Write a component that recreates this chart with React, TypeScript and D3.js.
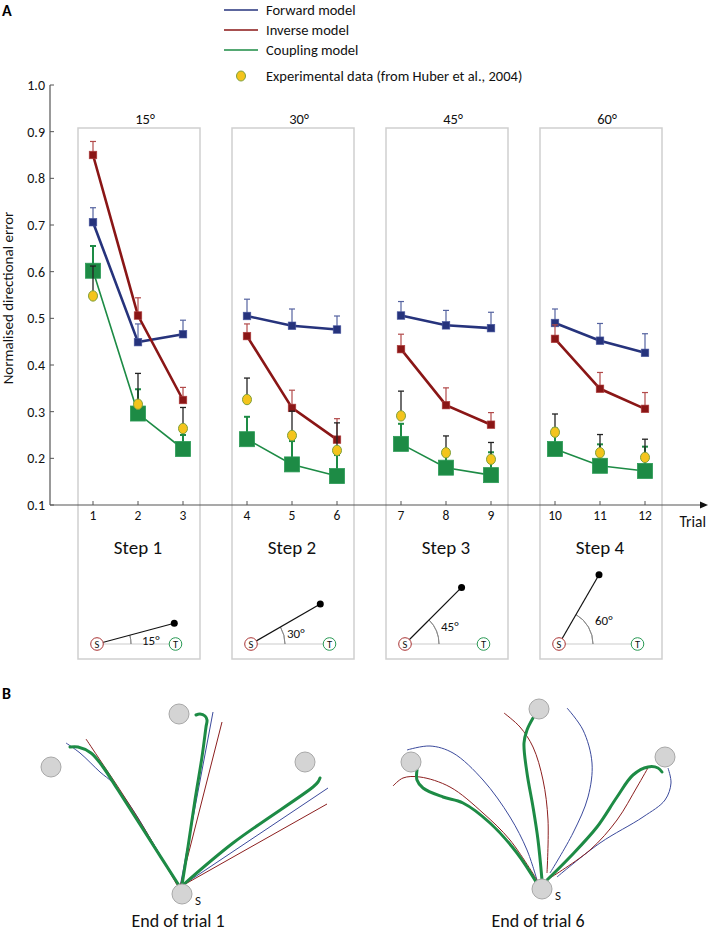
import React from "react";
import * as d3 from "d3";

// ---------- Panel A data ----------
const trials = [1, 2, 3, 4, 5, 6, 7, 8, 9, 10, 11, 12];
const steps = ["Step 1", "Step 2", "Step 3", "Step 4"];
const stepAngles = [15, 30, 45, 60];
const yTicks = [0.1, 0.2, 0.3, 0.4, 0.5, 0.6, 0.7, 0.8, 0.9, 1.0];

const forwardMean = [0.706, 0.449, 0.466, 0.505, 0.484, 0.476, 0.506, 0.485, 0.479, 0.49, 0.452, 0.426];
const forwardErr = [0.031, 0.039, 0.03, 0.036, 0.036, 0.029, 0.03, 0.032, 0.034, 0.03, 0.037, 0.041];
const inverseMean = [0.85, 0.506, 0.325, 0.462, 0.308, 0.24, 0.434, 0.314, 0.272, 0.456, 0.349, 0.306];
const inverseErr = [0.029, 0.038, 0.027, 0.026, 0.038, 0.045, 0.032, 0.037, 0.026, 0.03, 0.035, 0.035];
const couplingMean = [0.602, 0.296, 0.22, 0.241, 0.187, 0.162, 0.231, 0.18, 0.164, 0.22, 0.184, 0.173];
const couplingErr = [0.053, 0.052, 0.03, 0.048, 0.05, 0.045, 0.043, 0.04, 0.049, 0.044, 0.046, 0.052];
const experimentalMean = [0.548, 0.316, 0.264, 0.326, 0.249, 0.217, 0.291, 0.212, 0.198, 0.256, 0.212, 0.202];
const experimentalErr = [0.064, 0.066, 0.045, 0.046, 0.052, 0.059, 0.053, 0.036, 0.036, 0.039, 0.039, 0.039];

const legendNames = ["Forward model", "Inverse model", "Coupling model"];
const experimentalName = "Experimental data (from Huber et al., 2004)";

// ---------- Panel B data (offsets from start S) ----------
const targetOffsets: [number, number][] = [[-131, -127], [-3, -180], [123, -132]];

const trial1Coupling: [number, number][][] = [
  [[-2, -7], [-34, -57], [-64, -104], [-79, -127], [-91, -141], [-104, -147], [-112, -147]],
  [[0, -9], [6, -47], [13, -94], [20, -137], [24, -167], [25, -174], [23, -178], [18, -180], [14, -179]],
  [[1, -9], [51, -51], [131, -107], [136, -112], [138, -116]],
];
const trial1Forward: [number, number][][] = [
  [[-116, -151], [-102, -141], [-82, -122], [-69, -111], [-49, -84], [-29, -51], [-5, -11]],
  [[-2, -7], [31, -182]],
  [[1, -9], [146, -106]],
];
const trial1Inverse: [number, number][][] = [
  [[-96, -155], [-82, -134], [-62, -104], [-35, -61], [-5, -9]],
  [[-2, -7], [40, -172]],
  [[-2, -7], [145, -90]],
];
const trial6Coupling: [number, number][][] = [
  [[-125, -119], [-125, -109], [-119, -101], [-99, -92], [-79, -86], [-52, -66], [-25, -36], [-4, -4]],
  [[-9, -171], [-15, -159], [-18, -146], [-15, -116], [-9, -82], [-4, -49], [0, -9]],
  [[120, -117], [116, -121], [106, -122], [91, -114], [75, -92], [55, -62], [28, -32], [5, -9]],
];
const trial6Forward: [number, number][][] = [
  [[-135, -139], [-112, -143], [-89, -136], [-59, -109], [-32, -72], [-15, -39], [-5, -9]],
  [[25, -181], [41, -159], [50, -126], [46, -92], [31, -56], [8, -16]],
  [[126, -121], [129, -106], [123, -89], [101, -72], [58, -46], [15, -12]],
];
const trial6Inverse: [number, number][][] = [
  [[-149, -103], [-139, -111], [-122, -112], [-92, -102], [-59, -76], [-32, -49], [-5, -9]],
  [[-38, -176], [-22, -162], [-9, -142], [1, -109], [6, -69], [5, -16]],
  [[107, -123], [95, -102], [75, -69], [48, -39], [8, -11]],
];
const panelTitles = ["End of trial 1", "End of trial 6"];

// ---------- styling ----------
const FONT = "Carlito, Lato, 'Open Sans', sans-serif";
const BLUE = "#26337c";
const RED = "#8a1616";
const GREEN = "#1d8b45";
const BLUE_ERR = "#5563a0";
const RED_ERR = "#b24a4a";

export default function App() {
  const W = 708;
  const H = 932;

  const y = d3.scaleLinear().domain([0.1, 1.0]).range([505, 85]);
  const group = d3.scaleBand<string>().domain(steps).range([61, 677]);
  const within = d3.scalePoint<number>().domain([0, 1, 2]).range([-45, 45]);
  const gc = (s: string) => (group(s) as number) + group.bandwidth() / 2;
  const tx = (i: number) => gc(steps[Math.floor(i / 3)]) + (within(i % 3) as number);

  const seriesLine = (vals: number[], g: number) =>
    d3
      .line<number>()
      .x((_, k) => tx(g * 3 + k))
      .y((v) => y(v))(vals.slice(g * 3, g * 3 + 3)) as string;

  const errBar = (i: number, m: number, e: number, color: string, w: number, key: string) => {
    const x = tx(i);
    return (
      <g key={key} stroke={color} strokeWidth={w}>
        <line x1={x} x2={x} y1={y(m)} y2={y(m + e)} />
        <line x1={x - 3} x2={x + 3} y1={y(m + e)} y2={y(m + e)} />
      </g>
    );
  };

  // Panel B helpers
  const panelS: [number, number][] = [[182, 894], [542, 889]];
  const curve = (pts: [number, number][], sx: d3.ScaleLinear<number, number>, sy: d3.ScaleLinear<number, number>) =>
    d3
      .line<[number, number]>()
      .x((d) => sx(d[0]))
      .y((d) => sy(d[1]))
      .curve(d3.curveCatmullRom.alpha(0.5))(pts) as string;

  const panels = [
    { c: trial1Coupling, f: trial1Forward, inv: trial1Inverse },
    { c: trial6Coupling, f: trial6Forward, inv: trial6Inverse },
  ];

  return (
    <svg
      width={W}
      height={H}
      style={{ position: "absolute", left: 0, top: 0, background: "#fff" }}
      fontFamily={FONT}
    >
      <rect x={0} y={0} width={W} height={H} fill="#fff" />
      {/* Panel labels */}
      <text x={2} y={16} fontSize={16} fontWeight="bold" fill="#000">A</text>
      <text x={2} y={699} fontSize={16} fontWeight="bold" fill="#000">B</text>

      {/* Legend */}
      {legendNames.map((n, k) => (
        <g key={n}>
          <line x1={224} x2={258} y1={10 + 20 * k} y2={10 + 20 * k} stroke={[BLUE, RED, GREEN][k]} strokeWidth={1.6} />
          <text x={266} y={10 + 20 * k} dy="0.35em" fontSize={14.5} fill="#111">{n}</text>
        </g>
      ))}
      <ellipse cx={241} cy={76} rx={4.5} ry={5} fill="#f4c41c" stroke="#7fa03a" strokeWidth={1} />
      <text x={266} y={76} dy="0.35em" fontSize={14.5} fill="#111">{experimentalName}</text>

      {/* Step boxes */}
      {steps.map((s, g) => (
        <g key={s}>
          <rect x={gc(s) - 60} y={128} width={122} height={531} fill="none" stroke="#cfcfcf" strokeWidth={1.5} />
          <text x={gc(s) + 7} y={124} textAnchor="middle" fontSize={14.5} fill="#111">{stepAngles[g]}°</text>
          <text x={gc(s)} y={554} textAnchor="middle" fontSize={19} fill="#111">{s}</text>
        </g>
      ))}

      {/* Y axis */}
      <line x1={50} x2={50} y1={y(1.0)} y2={y(0.1)} stroke="#555" strokeWidth={1.2} />
      {yTicks.map((t) => (
        <g key={t}>
          <line x1={50} x2={54} y1={y(t)} y2={y(t)} stroke="#555" strokeWidth={1} />
          <text x={45} y={y(t)} dy="0.35em" textAnchor="end" fontSize={14} fill="#111">{t.toFixed(1)}</text>
        </g>
      ))}
      <text
        transform={`translate(13,${(y(1.0) + y(0.1)) / 2 + 3}) rotate(-90)`}
        textAnchor="middle"
        fontSize={15}
        fill="#111"
      >
        Normalised directional error
      </text>

      {/* X axis */}
      <line x1={50} x2={700} y1={y(0.1)} y2={y(0.1)} stroke="#555" strokeWidth={1.2} />
      <path d={`M700,${y(0.1) - 3.5} L708,${y(0.1)} L700,${y(0.1) + 3.5} Z`} fill="#111" />
      {trials.map((t, i) => (
        <g key={t}>
          <line x1={tx(i)} x2={tx(i)} y1={y(0.1)} y2={y(0.1) - 4} stroke="#555" strokeWidth={1} />
          <text x={tx(i)} y={520} textAnchor="middle" fontSize={13.5} fill="#111">{t}</text>
        </g>
      ))}
      <text x={706} y={527} textAnchor="end" fontSize={15.5} fill="#111">Trial</text>

      {/* Series lines */}
      {steps.map((s, g) => (
        <g key={"lines" + s} fill="none">
          <path d={seriesLine(couplingMean, g)} stroke={GREEN} strokeWidth={1.6} />
          <path d={seriesLine(forwardMean, g)} stroke={BLUE} strokeWidth={2.6} />
          <path d={seriesLine(inverseMean, g)} stroke={RED} strokeWidth={2.6} />
        </g>
      ))}

      {/* Coupling */}
      {trials.map((t, i) => errBar(i, couplingMean[i], couplingErr[i], GREEN, 2, "ce" + t))}
      {trials.map((t, i) => (
        <rect key={"cm" + t} x={tx(i) - 7.5} y={y(couplingMean[i]) - 7.5} width={15} height={15} fill={GREEN} stroke="#2a9a55" strokeWidth={0.8} />
      ))}
      {/* Forward */}
      {trials.map((t, i) => errBar(i, forwardMean[i], forwardErr[i], BLUE_ERR, 1.2, "fe" + t))}
      {trials.map((t, i) => (
        <rect key={"fm" + t} x={tx(i) - 3.8} y={y(forwardMean[i]) - 3.8} width={7.6} height={7.6} fill={BLUE} stroke="#4a58a0" strokeWidth={0.6} />
      ))}
      {/* Inverse */}
      {trials.map((t, i) => errBar(i, inverseMean[i], inverseErr[i], RED_ERR, 1.2, "ie" + t))}
      {trials.map((t, i) => (
        <rect key={"im" + t} x={tx(i) - 3.8} y={y(inverseMean[i]) - 3.8} width={7.6} height={7.6} fill={RED} stroke="#b04040" strokeWidth={0.6} />
      ))}
      {/* Experimental */}
      {trials.map((t, i) => errBar(i, experimentalMean[i], experimentalErr[i], "#222", 1.3, "ee" + t))}
      {trials.map((t, i) => (
        <ellipse key={"em" + t} cx={tx(i)} cy={y(experimentalMean[i])} rx={4.5} ry={5.2} fill="#f4c41c" stroke="#7fa03a" strokeWidth={1} />
      ))}

      {/* Small angle diagrams */}
      {steps.map((s, g) => {
        const sx = gc(s) - 41;
        const sy = 644;
        const th = (stepAngles[g] * Math.PI) / 180;
        const L = 80;
        const r = 34;
        const arc = d3.arc()({ innerRadius: r, outerRadius: r, startAngle: Math.PI / 2 - th, endAngle: Math.PI / 2 }) as string;
        const ly = sy - 4 - (20 * (stepAngles[g] - 15)) / 45;
        const lx = sx + 36 + (stepAngles[g] === 15 ? 9 : 0);
        return (
          <g key={"diag" + s}>
            <line x1={sx + 6} x2={sx + 72.5} y1={sy} y2={sy} stroke="#cccccc" strokeWidth={1.2} />
            <path d={arc} transform={`translate(${sx},${sy})`} fill="none" stroke="#888" strokeWidth={0.9} />
            <line x1={sx} y1={sy} x2={sx + L * Math.cos(th)} y2={sy - L * Math.sin(th)} stroke="#111" strokeWidth={1.2} />
            <circle cx={sx + L * Math.cos(th)} cy={sy - L * Math.sin(th)} r={3.5} fill="#000" />
            <circle cx={sx} cy={sy} r={6.3} fill="#fff" stroke="#a33" strokeWidth={1} />
            <text x={sx} y={sy} dy="0.36em" textAnchor="middle" fontSize={10.5} fill="#111">S</text>
            <circle cx={sx + 78.5} cy={sy} r={6.3} fill="#fff" stroke="#2a9a55" strokeWidth={1} />
            <text x={sx + 78.5} y={sy} dy="0.36em" textAnchor="middle" fontSize={10.5} fill="#111">T</text>
            <text x={lx} y={ly} dy="0.35em" fontSize={13} fill="#111">{stepAngles[g]}°</text>
          </g>
        );
      })}

      {/* Panel B */}
      {panels.map((p, k) => {
        const [ox, oy] = panelS[k];
        const sx = d3.scaleLinear().domain([0, 100]).range([ox, ox + 100]);
        const sy = d3.scaleLinear().domain([0, 100]).range([oy, oy + 100]);
        return (
          <g key={"panelB" + k}>
            {p.f.map((pts, j) => (
              <path key={"f" + j} d={curve(pts, sx, sy)} fill="none" stroke="#3b4a9c" strokeWidth={1} />
            ))}
            {p.inv.map((pts, j) => (
              <path key={"i" + j} d={curve(pts, sx, sy)} fill="none" stroke="#8c1f1f" strokeWidth={1} />
            ))}
            {p.c.map((pts, j) => (
              <path key={"c" + j} d={curve(pts, sx, sy)} fill="none" stroke={GREEN} strokeWidth={3} strokeLinecap="round" />
            ))}
            {targetOffsets.map((t, j) => (
              <circle key={"t" + j} cx={sx(t[0])} cy={sy(t[1])} r={10} fill="#d4d4d4" stroke="#a8a8a8" strokeWidth={1} />
            ))}
            <circle cx={sx(0)} cy={sy(0)} r={10} fill="#d4d4d4" stroke="#a8a8a8" strokeWidth={1} />
            <text x={sx(16)} y={sy(6)} dy="0.35em" textAnchor="middle" fontSize={13} fill="#111">S</text>
            <text x={sx(-4)} y={927} textAnchor="middle" fontSize={18} fill="#111">{panelTitles[k]}</text>
          </g>
        );
      })}
    </svg>
  );
}
